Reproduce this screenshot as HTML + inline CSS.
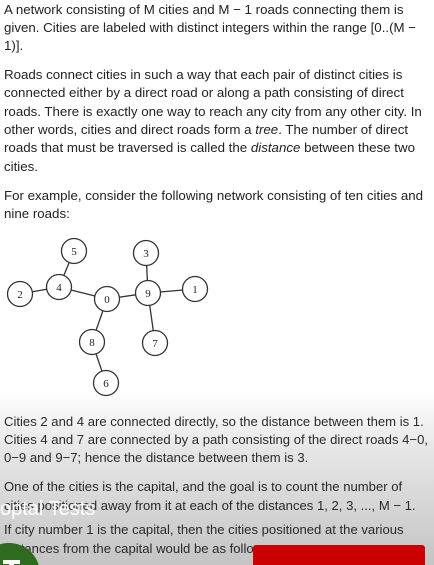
<!DOCTYPE html>
<html style="width:434px;height:565px;overflow:hidden;"><head><meta charset="utf-8"><style>
html,body{margin:0;width:434px;height:565px;overflow:hidden;}
body{position:relative;font-family:"Liberation Sans",Arial,sans-serif;background:linear-gradient(#fff 0,#fff 390px,#e6e6e6 450px,#c4c4c4 565px);}
.l{position:absolute;left:4px;font-size:13.3px;color:#222;white-space:nowrap;line-height:18px;}
.b{font-size:13.1px;color:#2a2a2a;}
</style></head><body>
<div>
<div class="l" style="top:1px">A network consisting of M cities and M − 1 roads connecting them is</div>
<div class="l" style="top:19px">given. Cities are labeled with distinct integers within the range [0..(M −</div>
<div class="l" style="top:37px">1)].</div>
<div class="l" style="top:66px">Roads connect cities in such a way that each pair of distinct cities is</div>
<div class="l" style="top:84px">connected either by a direct road or along a path consisting of direct</div>
<div class="l" style="top:103px">roads. There is exactly one way to reach any city from any other city. In</div>
<div class="l" style="top:121px">other words, cities and direct roads form a <i>tree</i>. The number of direct</div>
<div class="l" style="top:139px">roads that must be traversed is called the <i>distance</i> between these two</div>
<div class="l" style="top:158px">cities.</div>
<div class="l" style="top:187px">For example, consider the following network consisting of ten cities and</div>
<div class="l" style="top:205px">nine roads:</div>
</div>
<svg width="434" height="400" style="position:absolute;left:0;top:0" id="g"></svg>
<div>
<div class="l b" style="top:413px">Cities 2 and 4 are connected directly, so the distance between them is 1.</div>
<div class="l b" style="top:431px">Cities 4 and 7 are connected by a path consisting of the direct roads 4−0,</div>
<div class="l b" style="top:449px">0−9 and 9−7; hence the distance between them is 3.</div>
<div class="l b" style="top:478px">One of the cities is the capital, and the goal is to count the number of</div>
<div class="l b" style="top:497px">cities positioned away from it at each of the distances 1, 2, 3, ..., M − 1.</div>
<div class="l b" style="top:521px">If city number 1 is the capital, then the cities positioned at the various</div>
<div class="l b" style="top:540px">distances from the capital would be as follows:</div>
</div>
<div style="position:absolute;left:0;top:498px;font-size:20px;line-height:22px;color:#fff;white-space:nowrap;">optal Tests</div>
<div style="position:absolute;left:253px;top:545px;width:172px;height:20px;background:#cc0000;border-radius:3px 3px 0 0;"></div>
<svg width="45" height="22" style="position:absolute;left:0;top:543px"><path d="M0,22 L0,1.3 A31,31 0 0 1 38.7,22 Z" fill="#2f6b1f"/><rect x="3" y="17" width="17" height="4" fill="#fff"/><rect x="9" y="17" width="5" height="5" fill="#fff"/></svg>
<script>
const nodes=["5","4","2","0","9","3","1","8","7","6"];
const nx=[74,59,20,107,148,146,195,92,155,106];
const ny=[251,287,294,299,293,253,289,342,343,383];
const edges=[["5","4"],["4","2"],["4","0"],["0","9"],["9","3"],["9","1"],["9","7"],["0","8"],["8","6"]];
const svg=document.getElementById('g');const NS="http://www.w3.org/2000/svg";
const idx=n=>nodes.indexOf(n);
edges.forEach(e=>{const a=idx(e[0]),b=idx(e[1]);const l=document.createElementNS(NS,'line');


l.setAttribute('x1',nx[a]);l.setAttribute('y1',ny[a]);l.setAttribute('x2',nx[b]);l.setAttribute('y2',ny[b]);
l.setAttribute('stroke','#333');l.setAttribute('stroke-width','1.3');svg.appendChild(l);});
nodes.forEach((n,i)=>{const c=document.createElementNS(NS,'circle');


c.setAttribute('cx',nx[i]);c.setAttribute('cy',ny[i]);c.setAttribute('r',12.5);c.setAttribute('fill','#fff');c.setAttribute('stroke','#333');c.setAttribute('stroke-width','1.3');svg.appendChild(c);
const t=document.createElementNS(NS,'text');


t.setAttribute('x',nx[i]);t.setAttribute('y',ny[i]+4);t.setAttribute('text-anchor','middle');t.setAttribute('font-size','11');t.setAttribute('font-family','Liberation Serif,serif');t.setAttribute('fill','#222');t.textContent=n;svg.appendChild(t);});
</script>
</body></html>
